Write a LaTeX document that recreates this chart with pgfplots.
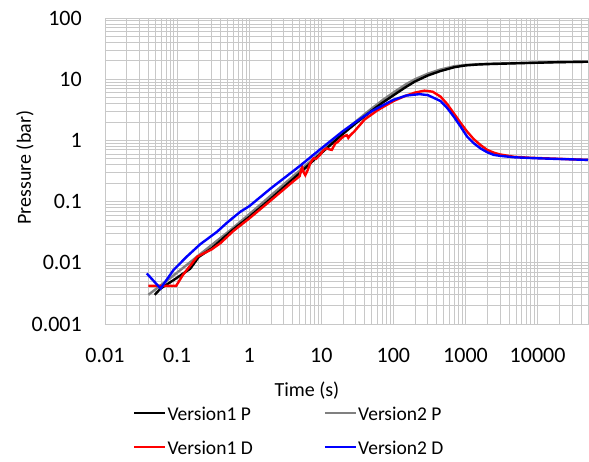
\documentclass[border=0pt]{standalone}
\usepackage{fontspec}
\setmainfont{Carlito}
\usepackage{pgfplots}
\pgfplotsset{compat=1.18}
\definecolor{gridgray}{RGB}{200,200,200}
\definecolor{sgray}{RGB}{128,128,128}
\begin{document}
\begin{tikzpicture}
\useasboundingbox (-105pt,-137pt) rectangle (484pt,324pt);
\begin{axis}[
  at={(0,0)}, anchor=south west,
  scale only axis, width=483pt, height=306pt,
  xmode=log, ymode=log,
  xmin=0.01, xmax=50000, ymin=0.001, ymax=100,
  xtick={0.01,0.1,1,10,100,1000,10000},
  xticklabels={0.01,0.1,1,10,100,1000,10000},
  ytick={0.001,0.01,0.1,1,10,100},
  yticklabels={0.001,0.01,0.1,1,10,100},
  minor xtick={0.02,0.03,0.04,0.05,0.06,0.07,0.08,0.09,0.2,0.3,0.4,0.5,0.6,0.7,0.8,0.9,2,3,4,5,6,7,8,9,20,30,40,50,60,70,80,90,200,300,400,500,600,700,800,900,2000,3000,4000,5000,6000,7000,8000,9000,20000,30000,40000},
  minor ytick={0.002,0.003,0.004,0.005,0.006,0.007,0.008,0.009,0.02,0.03,0.04,0.05,0.06,0.07,0.08,0.09,0.2,0.3,0.4,0.5,0.6,0.7,0.8,0.9,2,3,4,5,6,7,8,9,20,30,40,50,60,70,80,90},
  grid=both,
  major grid style={gridgray, line width=0.8pt},
  minor grid style={gridgray, line width=0.8pt},
  axis line style={gridgray, line width=0.8pt},
  major tick length=0pt, minor tick length=0pt,
  tick style={draw=none},
  tick label style={font=\fontsize{22}{26}\selectfont, text=black},
  xticklabel style={inner sep=0pt, anchor=north, yshift=-24pt},
  yticklabel style={inner sep=0pt, anchor=east, xshift=-23pt},
  xlabel={Time (s)}, ylabel={Pressure (bar)},
  label style={font=\fontsize{20}{24}\selectfont},
  xlabel style={at={(axis description cs:0.418,-0.2180)}, anchor=center},
  ylabel style={at={(axis description cs:-0.1656,0.511)}, anchor=center},
  legend columns=2,
  legend cell align=left,
  legend style={at={(axis description cs:0.058,-0.266)}, anchor=north west,
    draw=none, fill=none, inner sep=0pt,
    font=\fontsize{19.5}{23}\selectfont, row sep=17pt,
    /tikz/every even column/.append style={column sep=70pt},
    nodes={inner sep=1pt, text height=14pt, text depth=1pt}},
  legend image code/.code={\draw[#1] (0pt,1pt) -- (31pt,1pt);},
  every axis plot/.append style={line width=2.4pt},
]
\addlegendimage{black, line width=2.4pt}
\addlegendentry{Version1 P}
\addlegendimage{sgray, line width=2.4pt}
\addlegendentry{Version2 P}
\addlegendimage{red, line width=2.4pt}
\addlegendentry{Version1 D}
\addlegendimage{blue, line width=2.4pt}
\addlegendentry{Version2 D}

% Version2 P
\addplot[sgray, forget plot] coordinates {
(0.04,0.0030) (0.1,0.0069) (0.2,0.0133) (0.545,0.034) (1,0.062) (2,0.126)
(5,0.32) (10,0.65) (20,1.34) (30,2.03) (50,3.32) (70,4.5) (100,6.05)
(150,8.3) (200,10.0) (300,12.3) (450,14.4) (700,16.3) (1000,17.1)
(1500,17.6) (2200,17.9) (5000,18.35) (10000,18.7) (20000,19.0) (50000,19.3)
};
% Version1 P
\addplot[black, forget plot] coordinates {
(0.049,0.0030) (0.059,0.0038) (0.089,0.0052) (0.152,0.0080) (0.2,0.0125)
(0.3,0.0172) (0.6,0.035) (1,0.056) (2,0.112) (5,0.29) (10,0.62) (20,1.28)
(30,1.9) (50,3.05) (70,4.1) (100,5.45) (150,7.5) (200,9.2) (300,11.5)
(450,13.6) (700,15.7) (1000,16.8) (1500,17.4) (2200,17.7) (5000,18.2)
(10000,18.6) (20000,19.0) (50000,19.3)
};
% Version1 D
\addplot[red, forget plot] coordinates {
(0.040,0.0042) (0.097,0.0042) (0.12,0.0063) (0.19,0.0126) (0.30,0.0165)
(0.40,0.021) (0.6,0.033) (1.0,0.053) (2.0,0.105) (4.0,0.21) (5.0,0.26)
(5.4,0.37) (5.7,0.30) (6.0,0.27) (6.5,0.33) (7.0,0.42) (7.8,0.51) (8.5,0.50)
(9.6,0.58) (10.8,0.70) (12.0,0.74) (12.6,0.72) (14.0,0.70) (15.6,0.89)
(17.0,0.95) (18.4,1.05) (20.4,1.16) (22.6,1.22) (23.7,1.10) (25,1.2)
(28.5,1.39) (40,2.2) (60,3.1) (100,4.4) (150,5.4) (200,6.05) (270,6.5)
(350,6.25) (450,5.2) (550,4.0) (689,2.77) (850,1.95) (1055,1.39) (1300,1.05)
(1616,0.84) (2000,0.70) (2470,0.63) (3000,0.59) (4690,0.54) (8000,0.52)
(20000,0.50) (50000,0.48)
};
% Version2 D
\addplot[blue, forget plot] coordinates {
(0.038,0.0067) (0.059,0.0038) (0.089,0.0076) (0.136,0.0126) (0.208,0.020)
(0.356,0.032) (0.49,0.045) (0.75,0.068) (1,0.084) (2,0.165) (5,0.38)
(10,0.74) (20,1.42) (30,2.0) (50,3.0) (100,4.6) (150,5.4) (230,5.7)
(300,5.5) (450,4.4) (550,3.45) (689,2.44) (850,1.7) (1055,1.15) (1300,0.9)
(1616,0.74) (2000,0.64) (2470,0.58) (3000,0.56) (4690,0.53) (10000,0.51)
(50000,0.48)
};
\end{axis}
\end{tikzpicture}
\end{document}
